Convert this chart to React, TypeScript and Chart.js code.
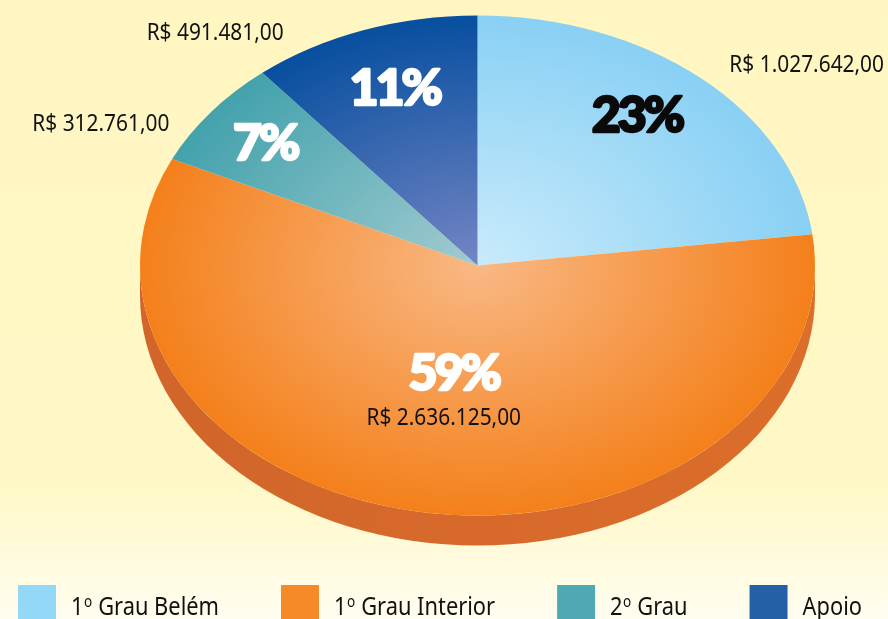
import React, { useEffect, useRef } from 'react';
import { Chart, registerables } from 'chart.js';

Chart.register(...registerables);

// ---- data ----
const categories = ['1º Grau Belém', '1º Grau Interior', '2º Grau', 'Apoio'];
const values = [1027642, 2636125, 312761, 491481];
const legendColors = ['#94d8f8', '#f68a26', '#4fa9b2', '#2360a8'];
const innerColors = ['#c9ebfb', '#f9b884', '#a2cbd0', '#7585c4'];
const outerColors = ['#89d0f4', '#f4801b', '#43a2ac', '#074f9f'];
const pctColors = ['#0a0a0a', '#ffffff', '#ffffff', '#ffffff'];
const sideColors = ['#d1652a', '#dc6e2b'];

// ---- layout constants (drawing only) ----
const SX = 1.35; // horizontal stretch of the pie (ellipse)
const DEPTH = 30; // 3D thickness
const TEXT_SX = 0.84;
const pctLayout = [
  { f: 0.75, dx: -8, dy: -11 },
  { f: 0.45, dx: 0, dy: -5 },
  { f: 0.8, dx: 1, dy: -1 },
  { f: 0.75, dx: 3, dy: -2 },
];
const valLayout = [
  { f: 1, dx: 106, dy: -14 },
  { f: 0.45, dx: -10, dy: 40 },
  { f: 1, dx: -110, dy: 10 },
  { f: 1, dx: -148, dy: 1 },
];

const total = values.reduce((a, b) => a + b, 0);
const formatBRL = (v: number) =>
  'R$ ' + Math.floor(v).toString().replace(/\B(?=(\d{3})+(?!\d))/g, '.') + ',00';

function drawText(
  ctx: CanvasRenderingContext2D,
  text: string,
  cx: number,
  baseline: number,
  font: string,
  color: string,
  sx: number,
  spacing = '0px',
  stroke = 0
) {
  ctx.save();
  ctx.font = font;
  (ctx as any).letterSpacing = spacing;
  ctx.fillStyle = color;
  ctx.strokeStyle = color;
  ctx.lineJoin = 'round';
  ctx.textAlign = 'left';
  ctx.textBaseline = 'alphabetic';
  const w = ctx.measureText(text).width * sx;
  ctx.translate(cx - w / 2, baseline);
  ctx.scale(sx, 1);
  if (stroke > 0) {
    ctx.lineWidth = stroke;
    ctx.strokeText(text, 0, 0);
  }
  ctx.fillText(text, 0, 0);
  ctx.restore();
}

// text with "º" drawn as superscript o
function richWidth(ctx: CanvasRenderingContext2D, text: string, size: number, family: string) {
  const parts = text.split('º');
  let w = 0;
  parts.forEach((p, i) => {
    ctx.font = `${size}px ${family}`;
    w += ctx.measureText(p).width;
    if (i < parts.length - 1) {
      ctx.font = `${size * 0.62}px ${family}`;
      w += ctx.measureText('o').width + 1;
    }
  });
  return w;
}
function drawRich(
  ctx: CanvasRenderingContext2D,
  text: string,
  x: number,
  baseline: number,
  size: number,
  family: string,
  color: string,
  sx: number
) {
  ctx.save();
  ctx.translate(x, baseline);
  ctx.scale(sx, 1);
  ctx.fillStyle = color;
  ctx.textAlign = 'left';
  ctx.textBaseline = 'alphabetic';
  const parts = text.split('º');
  let cur = 0;
  parts.forEach((p, i) => {
    ctx.font = `${size}px ${family}`;
    ctx.fillText(p, cur, 0);
    cur += ctx.measureText(p).width;
    if (i < parts.length - 1) {
      ctx.font = `${size * 0.62}px ${family}`;
      ctx.fillText('o', cur + 0.5, -size * 0.3);
      cur += ctx.measureText('o').width + 1;
    }
  });
  ctx.restore();
}

const sliceFill = (c: any) => {
  const i = c.dataIndex ?? 0;
  const chart = c.chart;
  const area = chart.chartArea;
  if (!area || c.type !== 'data') return outerColors[i] || outerColors[0];
  const cx = (area.left + area.right) / 2;
  const cy = (area.top + area.bottom) / 2;
  const r = Math.min(area.right - area.left, area.bottom - area.top) / 2;
  const g = chart.ctx.createRadialGradient(cx, cy, 0, cx, cy, r);
  g.addColorStop(0, innerColors[i]);
  g.addColorStop(1, outerColors[i]);
  return g;
};

const ellipsePlugin = {
  id: 'ellipse3d',
  beforeDatasetsDraw(chart: any) {
    const arc = chart.getDatasetMeta(0).data[0];
    if (!arc) return;
    const { x, y, outerRadius: R } = arc;
    const ctx: CanvasRenderingContext2D = chart.ctx;
    ctx.save();
    ctx.translate(x, 0);
    ctx.scale(SX, 1);
    ctx.translate(-x, 0);
    const g = ctx.createLinearGradient(x - R, 0, x + R, 0);
    g.addColorStop(0, sideColors[0]);
    g.addColorStop(1, sideColors[1]);
    ctx.fillStyle = g;
    ctx.beginPath();
    ctx.moveTo(x - R, y);
    ctx.lineTo(x - R, y + DEPTH);
    ctx.arc(x, y + DEPTH, R, Math.PI, 0, true);
    ctx.lineTo(x + R, y);
    ctx.arc(x, y, R, 0, Math.PI, false);
    ctx.closePath();
    ctx.fill();
  },
  afterDatasetsDraw(chart: any) {
    if (chart.getDatasetMeta(0).data[0]) chart.ctx.restore();
  },
};

const labelPlugin = {
  id: 'labels',
  afterDraw(chart: any) {
    const ctx: CanvasRenderingContext2D = chart.ctx;
    const arcs = chart.getDatasetMeta(0).data;
    arcs.forEach((arc: any, i: number) => {
      const { x, y, outerRadius: R, startAngle, endAngle } = arc;
      const mid = (startAngle + endAngle) / 2;
      const rx = R * SX;
      const ry = R;
      const pl = pctLayout[i];
      const px = x + rx * pl.f * Math.cos(mid) + pl.dx;
      const py = y + ry * pl.f * Math.sin(mid) + pl.dy;
      const pct = Math.round((values[i] / total) * 100) + '%';
      drawText(ctx, pct, px, py + 18, '900 50px Lato', pctColors[i], 1, '-3px', 2.5);
      const vl = valLayout[i];
      const vx = x + rx * vl.f * Math.cos(mid) + vl.dx;
      const vy = y + ry * vl.f * Math.sin(mid) + vl.dy;
      drawText(ctx, formatBRL(values[i]), vx, vy + 8.5, '24px "Noto Sans"', '#111111', 0.87);
    });

    // legend
    const size = 26;
    const fam = '"Noto Sans"';
    const box = 38;
    const gapText = 15;
    const gapItem = 62;
    const widths = categories.map((c) => box + gapText + richWidth(ctx, c, size, fam) * TEXT_SX);
    const totalW = widths.reduce((a, b) => a + b, 0) + gapItem * (categories.length - 1);
    let lx = 440 - totalW / 2;
    categories.forEach((c, i) => {
      ctx.fillStyle = legendColors[i];
      ctx.fillRect(lx, 585, box, box);
      drawRich(ctx, c, lx + box + gapText, 615, size, fam, '#111111', TEXT_SX);
      lx += widths[i] + gapItem;
    });
  },
};

export default function App() {
  const ref = useRef<HTMLCanvasElement>(null);
  useEffect(() => {
    if (!ref.current) return;
    const chart = new Chart(ref.current, {
      type: 'pie',
      data: {
        labels: categories,
        datasets: [
          {
            data: values,
            backgroundColor: sliceFill as any,
            borderWidth: 0,
            clip: false as any,
          },
        ],
      },
      options: {
        responsive: false,
        animation: false,
        devicePixelRatio: 1,
        events: [],
        layout: { padding: { left: 227.5, right: 160.5, top: 15.5, bottom: 103.5 } },
        plugins: { legend: { display: false }, tooltip: { enabled: false } },
      },
      plugins: [ellipsePlugin, labelPlugin],
    });
    return () => chart.destroy();
  }, []);
  return (
    <div
      style={{
        position: 'absolute',
        left: 0,
        top: 0,
        width: 888,
        height: 619,
        overflow: 'hidden',
        background: 'linear-gradient(to bottom, #fff6c2 0%, #fff8c6 78%, #fffdf0 100%)',
      }}
    >
      <canvas ref={ref} width={888} height={619} style={{ display: 'block' }} />
    </div>
  );
}
